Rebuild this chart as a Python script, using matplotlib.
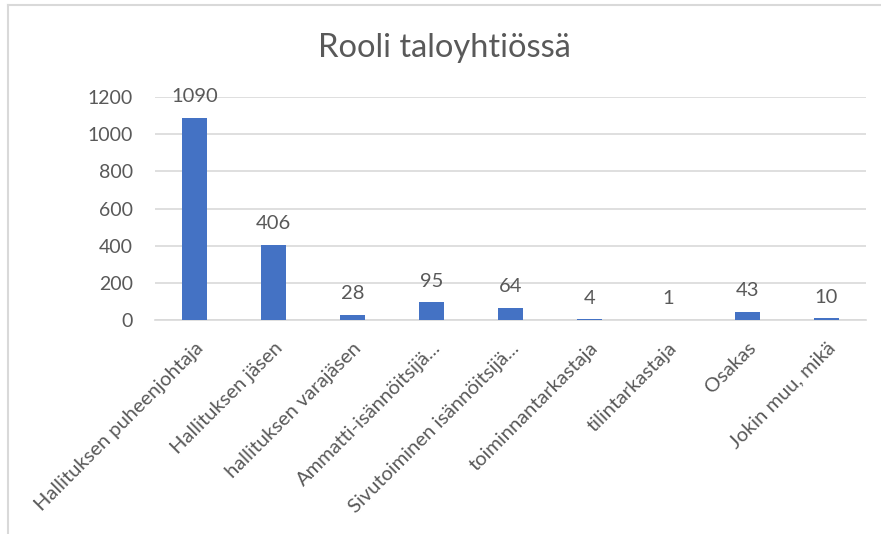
import matplotlib.pyplot as plt
import numpy as np

# Data
roolit = ['Hallituksen puheenjohtaja', 'Hallituksen jäsen', 'hallituksen varajäsen',
          'Ammatti-isännöitsijä...', 'Sivutoiminen isännöitsijä...', 'toiminnantarkastaja',
          'tilintarkastaja', 'Osakas', 'Jokin muu, mikä']
lukumaara = [1090, 406, 28, 95, 64, 4, 1, 43, 10]
y_ticks = [0, 200, 400, 600, 800, 1000, 1200]

plt.rcParams['font.family'] = ['Lato', 'DejaVu Sans']
tekstivari = '#595959'

fig = plt.figure(figsize=(8.81, 5.34), dpi=100)
ax = fig.add_axes([0.176, 0.401, 0.807, 0.417])

x = np.arange(len(roolit))
ax.bar(x, lukumaara, width=0.31, color='#4472C4', zorder=3)

for xi, v in zip(x, lukumaara):
    ax.annotate(str(v), (xi, v), xytext=(0, 9), textcoords='offset points',
                ha='center', va='bottom', fontsize=14.5, color=tekstivari)

ax.set_ylim(0, 1200)
ax.set_xlim(-0.5, len(roolit) - 0.5)
ax.set_yticks(y_ticks)
ax.set_yticklabels([str(t) for t in y_ticks], fontsize=14, color=tekstivari)
ax.set_xticks(x)
ax.set_xticklabels(roolit, rotation=45, ha='right', rotation_mode='anchor',
                   fontsize=14.5, color=tekstivari)
ax.tick_params(axis='both', length=0)
ax.tick_params(axis='y', pad=16)
ax.tick_params(axis='x', pad=14)
ax.grid(axis='y', color='#d9d9d9', linewidth=1.2, zorder=0)
for s in ['top', 'right', 'left']:
    ax.spines[s].set_visible(False)
ax.spines['bottom'].set_color('#d9d9d9')
ax.spines['bottom'].set_linewidth(1.2)

fig.text(0.505, 0.91, 'Rooli taloyhtiössä', ha='center', va='center',
         fontsize=23.5, color=tekstivari)

# kehys
fig.add_artist(plt.Line2D([0.009, 0.009], [0, 0.99], color='#d9d9d9', lw=1.5))
fig.add_artist(plt.Line2D([0.009, 1], [0.99, 0.99], color='#d9d9d9', lw=1.5))

fig.savefig('out.png', dpi=100, facecolor='white')
